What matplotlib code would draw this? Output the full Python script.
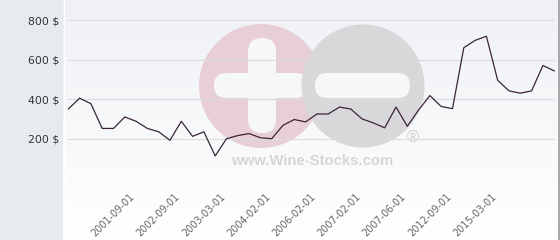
import numpy as np
import matplotlib.pyplot as plt
import matplotlib.transforms as mtransforms
from matplotlib.patches import Rectangle, Circle, FancyBboxPatch

# price series (USD), one value per sample
prices = [350, 405, 377, 252, 252, 310, 288, 252, 235, 192,
          288, 212, 235, 113, 200, 216, 226, 205, 200, 268,
          297, 285, 325, 325, 360, 350, 300, 280, 255, 360,
          263, 345, 418, 363, 352, 660, 697, 718, 495, 442,
          430, 442, 570, 543]
tick_pos = [6, 10, 14, 18, 22, 26, 30, 34, 38]
tick_labels = ["2001-09-01", "2002-09-01", "2003-03-01", "2004-02-01",
               "2006-02-01", "2007-02-01", "2007-06-01", "2012-09-01",
               "2015-03-01"]
y_ticks = [200, 400, 600, 800]
y_tick_labels = [f"{v} $" for v in y_ticks]

W, H = 560, 240
fig = plt.figure(figsize=(W / 100, H / 100), dpi=100)

# background layer in pixel coordinates
bg = fig.add_axes([0, 0, 1, 1], zorder=0)
bg.set_xlim(0, W)
bg.set_ylim(H, 0)
bg.axis("off")
bg.add_patch(Rectangle((0, 0), 63, H, color="#e7eaee", lw=0))
grad = np.linspace(0, 1, 256)[:, None]
c0 = np.array([0xef, 0xf1, 0xf5]) / 255
c1 = np.array([1.0, 1.0, 1.0])
img = c0 + (c1 - c0) * grad[..., None]
bg.imshow(img, extent=(63, 559, H, 0), aspect="auto", interpolation="bilinear")
bg.plot([63.5, 63.5], [0, H], color="white", lw=0.8)
bg.plot([559, 559], [0, H], color="#9a9a9a", lw=1.2)

# watermark
bar = "#f6f7f9"
bg.add_patch(Circle((261, 86), 62, color="#e8cfd7", lw=0))
bg.add_patch(FancyBboxPatch((248, 38), 28, 95, boxstyle="round,pad=0,rounding_size=14",
                            color=bar, lw=0))
bg.add_patch(FancyBboxPatch((214, 73), 94, 25, boxstyle="round,pad=0,rounding_size=12.5",
                            color=bar, lw=0))
bg.add_patch(Circle((363, 86), 61.5, color="#d8d8da", lw=0))
bg.add_patch(FancyBboxPatch((315, 73), 95, 25, boxstyle="round,pad=0,rounding_size=12.5",
                            color=bar, lw=0))
bg.text(413, 138, "®", fontsize=12, color="#d0d0d0", ha="center", va="center",
        family="Liberation Sans")
bg.text(312, 161, "www.Wine-Stocks.com", fontsize=10.7, fontweight="bold",
        color="#d6d6d6", ha="center", va="center", family="Liberation Sans")

# main chart
x0, x1 = 68, 555
y_base = 178.3
px_per_unit = (178.3 - 20.0) / 800
step = 11.3
ax = fig.add_axes([x0 / W, (H - y_base) / H, (x1 - x0) / W, y_base / H], zorder=1)
ax.patch.set_alpha(0)
x = np.arange(len(prices))
ax.plot(x, prices, color="#3b2535", lw=0.9, zorder=3)
ax.set_xlim((x0 - 68.3) / step, (x1 - 68.3) / step)
ax.set_ylim(0, y_base / px_per_unit)

for v in [0] + y_ticks:
    ax.axhline(v, color="#dcdcdc", lw=0.9, zorder=1)

ax.set_yticks(y_ticks)
ax.set_yticklabels(y_tick_labels, fontsize=7.8, color="#333333")
ax.set_xticks(tick_pos)
ax.set_xticklabels(tick_labels, rotation=45, ha="right", va="center",
                   rotation_mode="anchor", fontsize=7, color="#666666")
ax.tick_params(axis="y", length=0, pad=6.5)
ax.tick_params(axis="x", length=0, pad=12)
shift = mtransforms.ScaledTranslation(-3 / 100, 0, fig.dpi_scale_trans)
for lab in ax.get_xticklabels():
    lab.set_transform(lab.get_transform() + shift)
for s in ax.spines.values():
    s.set_visible(False)

fig.savefig("out.png", dpi=100)
